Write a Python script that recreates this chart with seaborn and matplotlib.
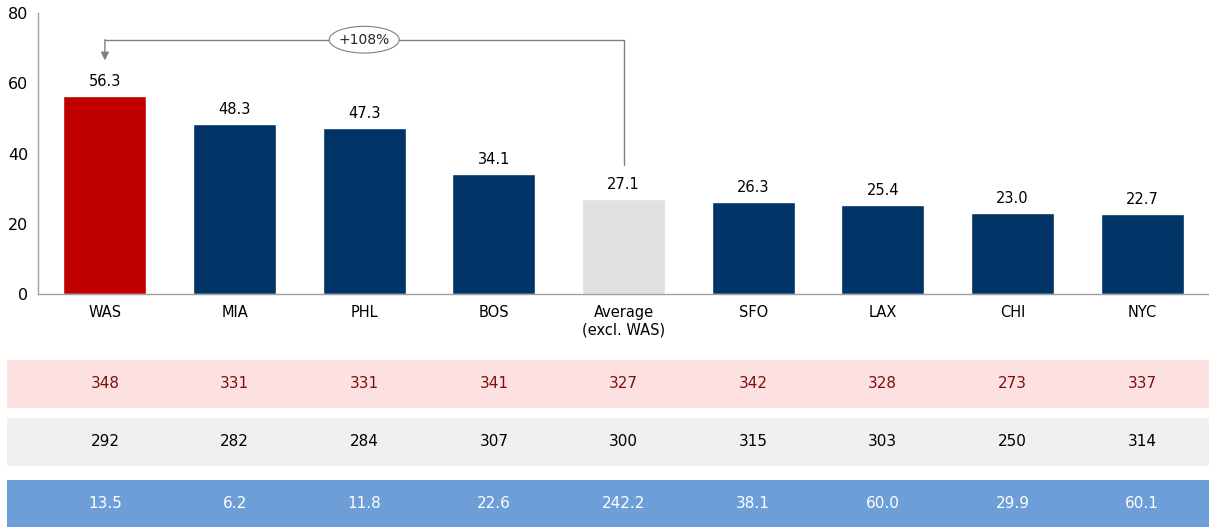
import matplotlib.pyplot as plt
import matplotlib.transforms as mtransforms
from matplotlib.patches import Rectangle, Ellipse
import numpy as np
import pandas as pd
import seaborn as sns

# Data
categories = ['WAS', 'MIA', 'PHL', 'BOS', 'Average\n(excl. WAS)', 'SFO', 'LAX', 'CHI', 'NYC']
values = [56.3, 48.3, 47.3, 34.1, 27.1, 26.3, 25.4, 23.0, 22.7]
row_pink = ['348', '331', '331', '341', '327', '342', '328', '273', '337']
row_gray = ['292', '282', '284', '307', '300', '315', '303', '250', '314']
row_blue = ['13.5', '6.2', '11.8', '22.6', '242.2', '38.1', '60.0', '29.9', '60.1']
change_label = '+108%'

bar_colors = ['#C00000', '#003366', '#003366', '#003366', '#E0E0E0',
              '#003366', '#003366', '#003366', '#003366']

sns.set_style('white')
plt.rcParams['font.family'] = ['DejaVu Sans']
plt.rcParams['font.size'] = 10

W, H = 1209, 527
fig = plt.figure(figsize=(W / 100, H / 100), dpi=100)
ax = fig.add_axes([38 / W, (H - 294) / H, 1 - 38 / W, 281 / H])

df = pd.DataFrame({'cat': categories, 'val': values})
sns.barplot(data=df, x='cat', y='val', hue='cat', palette=bar_colors,
            legend=False, width=0.64, saturation=1, ax=ax)

ax.set_ylim(0, 80)
ax.set_xlim(-0.516, 8.516)
ax.set_yticks([0, 20, 40, 60, 80])
ax.set_xlabel('')
ax.set_ylabel('')
for s in ['top', 'right']:
    ax.spines[s].set_visible(False)
for s in ['left', 'bottom']:
    ax.spines[s].set_color('#A0A0A0')
    ax.spines[s].set_linewidth(1)
ax.tick_params(axis='y', length=4, color='#A0A0A0', labelsize=11.5, pad=3,
               labelcolor='black')
ax.tick_params(axis='x', length=0, labelsize=10.5, pad=8, labelcolor='black')

# value labels
for i, v in enumerate(values):
    ax.text(i, v + 2, f'{v:.1f}', ha='center', va='bottom', fontsize=10.5, color='#000000')

# bracket arrow Average -> WAS
gy = 72.4
ax.plot([4, 4, 0], [values[4] + 9.5, gy, gy], color='#808080', lw=1, clip_on=False)
ax.annotate('', xy=(0, 66.5), xytext=(0, gy),
            arrowprops=dict(arrowstyle='-|>', color='#808080', lw=1,
                            mutation_scale=12, shrinkA=0, shrinkB=0))
ax.add_patch(Ellipse((2.0, gy), 0.54, 7.6, facecolor='white', edgecolor='#808080',
                     lw=0.8, zorder=5))
ax.text(2.0, gy, change_label, ha='center', va='center', fontsize=10, zorder=6)

# table rows below chart
trans = mtransforms.blended_transform_factory(ax.transData, fig.transFigure)
rows = [
    (row_pink, '#FDE0E0', '#7F1010', 360, 408),
    (row_gray, '#F0F0F0', '#000000', 418, 466),
    (row_blue, '#6E9ED8', '#FFFFFF', 480, 527),
]
for texts, bg, fg, top, bottom in rows:
    fig.patches.append(Rectangle((7 / W, (H - bottom) / H), 1 - 7 / W, (bottom - top) / H,
                                 transform=fig.transFigure, facecolor=bg,
                                 edgecolor='none', zorder=0))
    yc = (H - (top + bottom) / 2) / H
    for i, t in enumerate(texts):
        fig.text(i, yc, t, transform=trans, ha='center', va='center',
                 fontsize=11, color=fg, zorder=3)

plt.savefig('out.png', dpi=100)
